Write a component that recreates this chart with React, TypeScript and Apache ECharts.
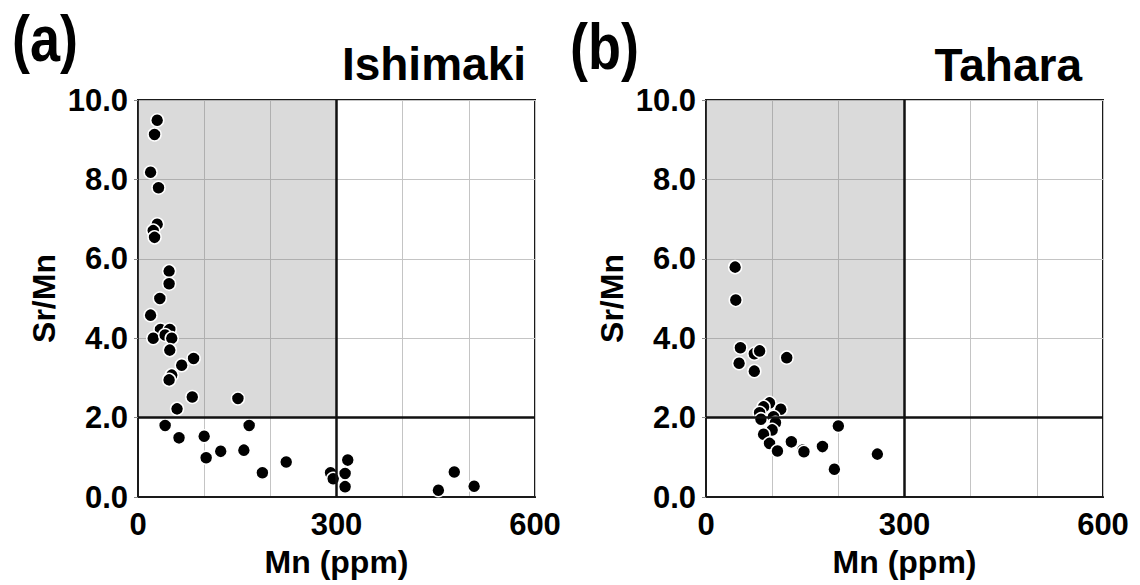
import React, { useEffect, useRef } from "react";
import * as echarts from "echarts";

const ishimakiMn = [29, 25, 19, 31, 29, 23, 25, 47, 47, 33, 19, 34, 48, 23, 41, 51, 48, 84, 66, 51, 47, 82, 151, 59, 41, 168, 62, 100, 103, 125, 160, 188, 224, 291, 295, 313, 317, 313, 454, 478, 508];
const ishimakiSrMn = [9.49, 9.13, 8.18, 7.79, 6.87, 6.71, 6.54, 5.69, 5.37, 5.0, 4.58, 4.22, 4.22, 4.0, 4.08, 4.0, 3.7, 3.49, 3.32, 3.07, 2.95, 2.52, 2.48, 2.22, 1.8, 1.8, 1.49, 1.53, 0.99, 1.15, 1.18, 0.61, 0.88, 0.61, 0.46, 0.59, 0.93, 0.26, 0.17, 0.63, 0.27];

const taharaMn = [44, 45, 52, 50, 73, 81, 73, 122, 96, 113, 87, 81, 83, 102, 105, 100, 87, 96, 108, 129, 146, 148, 176, 194, 200, 259];
const taharaSrMn = [5.79, 4.96, 3.76, 3.37, 3.61, 3.68, 3.17, 3.51, 2.37, 2.21, 2.27, 2.12, 1.96, 2.02, 1.87, 1.69, 1.58, 1.35, 1.16, 1.39, 1.18, 1.14, 1.27, 0.7, 1.79, 1.08];

const panelLetters = ["(a)", "(b)"];
const siteNames = ["Ishimaki", "Tahara"];
const xAxisTitle = "Mn (ppm)";
const yAxisTitle = "Sr/Mn";
const xLabelValues = [0, 300, 600];
const mnThreshold = 300;
const srMnThreshold = 2;

const FONT = "'Liberation Sans', Arial, Helvetica, sans-serif";

export default function App() {
  const ref = useRef<HTMLDivElement>(null);
  useEffect(() => {
    if (!ref.current) return;
    const chart = echarts.init(ref.current, null, { renderer: "svg" });
    const lefts = [138, 706];
    const grids = lefts.map((l) => ({
      left: l,
      top: 100,
      width: 397,
      height: 397,
      show: true,
      borderColor: "#1a1a1a",
      borderWidth: 2,
      backgroundColor: "#ffffff",
    }));
    const xAxes = lefts.map((_, i) => ({
      type: "value",
      gridIndex: i,
      min: 0,
      max: 600,
      interval: 100,
      name: xAxisTitle,
      nameLocation: "middle",
      nameGap: 49,
      nameTextStyle: { fontFamily: FONT, fontWeight: "bold", fontSize: 32, color: "#000" },
      axisLine: { show: true, onZero: false, lineStyle: { color: "#1a1a1a", width: 2 } },
      axisTick: { show: false },
      axisLabel: {
        fontFamily: FONT,
        fontWeight: "bold",
        fontSize: 31,
        color: "#000",
        margin: 12,
        formatter: (v: number) => (xLabelValues.includes(v) ? String(v) : ""),
      },
      splitLine: { show: true, lineStyle: { color: "#c4c4c4", width: 1 } },
    }));
    const yAxes = lefts.map((_, i) => ({
      type: "value",
      gridIndex: i,
      min: 0,
      max: 10,
      interval: 2,
      name: yAxisTitle,
      nameLocation: "middle",
      nameGap: 78,
      nameRotate: 90,
      nameTextStyle: { fontFamily: FONT, fontWeight: "bold", fontSize: 32, color: "#000" },
      axisLine: { show: true, onZero: false, lineStyle: { color: "#1a1a1a", width: 2 } },
      axisTick: { show: true, length: 4, lineStyle: { color: "#888" } },
      axisLabel: {
        fontFamily: FONT,
        fontWeight: "bold",
        fontSize: 31,
        color: "#000",
        margin: 10,
        formatter: (v: number) => v.toFixed(1),
      },
      splitLine: { show: true, lineStyle: { color: "#c4c4c4", width: 1 } },
    }));
    const datasets = [
      ishimakiMn.map((x, i) => [x, ishimakiSrMn[i]]),
      taharaMn.map((x, i) => [x, taharaSrMn[i]]),
    ];
    const series = datasets.map((d, i) => ({
      type: "scatter",
      xAxisIndex: i,
      yAxisIndex: i,
      data: d,
      symbol: "circle",
      symbolSize: 13,
      itemStyle: { color: "#000", borderColor: "#fff", borderWidth: 1.5, opacity: 1 },
      markArea: {
        silent: true,
        itemStyle: { color: "rgba(120,120,120,0.27)" },
        data: [[{ xAxis: 0, yAxis: srMnThreshold }, { xAxis: mnThreshold, yAxis: 10 }]],
      },
      markLine: {
        silent: true,
        symbol: "none",
        label: { show: false },
        lineStyle: { color: "#111", width: 2.5, type: "solid" },
        data: [{ xAxis: mnThreshold }, { yAxis: srMnThreshold }],
      },
    }));
    chart.setOption({
      animation: false,
      backgroundColor: "#ffffff",
      grid: grids,
      xAxis: xAxes,
      yAxis: yAxes,
      series,
      graphic: [
        {
          type: "text",
          x: 12,
          y: 6,
          scaleY: 1.2,
          style: { text: panelLetters[0], font: `bold 54px ${FONT}`, fill: "#000", verticalAlign: "top", align: "left" },
        },
        {
          type: "text",
          x: 570,
          y: 14,
          scaleY: 1.2,
          style: { text: panelLetters[1], font: `bold 54px ${FONT}`, fill: "#000", verticalAlign: "top", align: "left" },
        },
        {
          type: "text",
          right: 1140 - 526,
          top: 41,
          style: { text: siteNames[0], font: `bold 46px ${FONT}`, fill: "#000" },
        },
        {
          type: "text",
          right: 1140 - 1082,
          top: 42,
          style: { text: siteNames[1], font: `bold 46px ${FONT}`, fill: "#000" },
        },
      ],
    });
    return () => chart.dispose();
  }, []);
  return (
    <div
      ref={ref}
      style={{ position: "absolute", left: 0, top: 0, width: 1140, height: 585, background: "#fff" }}
    />
  );
}
